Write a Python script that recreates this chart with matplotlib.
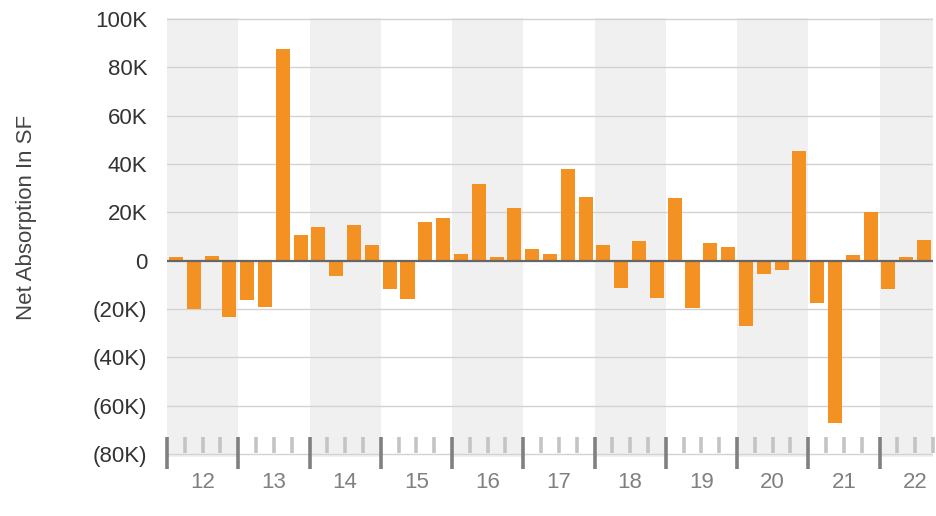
import numpy as np
import matplotlib
matplotlib.use('Agg')
import matplotlib.pyplot as plt
from matplotlib.ticker import FuncFormatter

plt.rcParams['font.family'] = ['Liberation Sans', 'DejaVu Sans']

#quarterly net absorption, 2012Q1 .. 2022Q3 (thousands of SF)
years = list(range(2012, 2023))
year_labels = ['12', '13', '14', '15', '16', '17', '18', '19', '20', '21', '22']
net_absorption_k = [
    1.4, -20.1, 1.8, -23.4,      # 2012
    -16.4, -19.3, 87.4, 10.5,    # 2013
    13.8, -6.5, 14.6, 6.3,       # 2014
    -11.5, -16.0, 15.9, 17.5,    # 2015
    2.6, 31.6, 1.4, 21.7,        # 2016
    4.7, 2.6, 37.8, 26.2,        # 2017
    6.3, -11.1, 8.0, -15.6,      # 2018
    25.8, -19.7, 7.2, 5.5,       # 2019
    -27.1, -5.7, -3.7, 45.2,     # 2020
    -17.3, -67.0, 2.2, 20.0,     # 2021
    -11.9, 1.4, 8.4,             # 2022
]
y_ticks_k = [-80, -60, -40, -20, 0, 20, 40, 60, 80, 100]

bar_color = '#f39122'
band_color = '#f0f0f0'

n_q = len(net_absorption_k)
x_pos = np.array([years[0] + (i + 0.5) / 4 for i in range(n_q)])
x_min, x_max = years[0], years[0] + n_q / 4

fig = plt.figure(figsize=(9.36, 5.16), dpi=100)
ax = fig.add_axes([167/936, 1-457/516, (933-167)/936, (457-18)/516])

#alternating year bands
for k, yr in enumerate(years):
    if k % 2 == 0:
        ax.axvspan(yr, min(yr + 1, x_max), color=band_color, lw=0, zorder=0)

ax.set_xlim(x_min, x_max)
ax.set_ylim(-81.2, 100.4)

#grid
for v in y_ticks_k:
    if v != 0:
        ax.axhline(v, color='#d2d2d2', lw=1.0, zorder=1)

ax.bar(x_pos, net_absorption_k, width=0.197, color=bar_color, zorder=3)
ax.axhline(0, color='#666666', lw=1.6, zorder=4)

#quarter / year marks along the bottom
tr = ax.get_xaxis_transform()
for i in range(n_q + 1):
    xb = years[0] + i / 4
    if i % 4 == 0:
        ax.plot([xb, xb], [-0.027, 0.0456], color='#808080', lw=2.6,
                transform=tr, clip_on=False, zorder=5, solid_capstyle='butt')
    else:
        ax.plot([xb, xb], [0.0091, 0.0456], color='#c4c4c4', lw=2.6,
                transform=tr, clip_on=False, zorder=5, solid_capstyle='butt')

ax.set_xticks([yr + 0.5 for yr in years])
ax.set_xticklabels(year_labels)
ax.tick_params(axis='x', length=0, pad=11, labelsize=16, labelcolor='#808080')

ax.set_yticks(y_ticks_k)
ax.yaxis.set_major_formatter(FuncFormatter(
    lambda v, p: '0' if v == 0 else ('%dK' % v if v > 0 else '(%dK)' % -v)))
ax.tick_params(axis='y', length=0, pad=14, labelsize=16, labelcolor='#333333')

for s in ax.spines.values():
    s.set_visible(False)

fig.text(27/936, 1-217/516, 'Net Absorption In SF', rotation=90,
         ha='center', va='center', fontsize=16, color='#444444')

plt.savefig('out.png', dpi=100)
plt.close()
